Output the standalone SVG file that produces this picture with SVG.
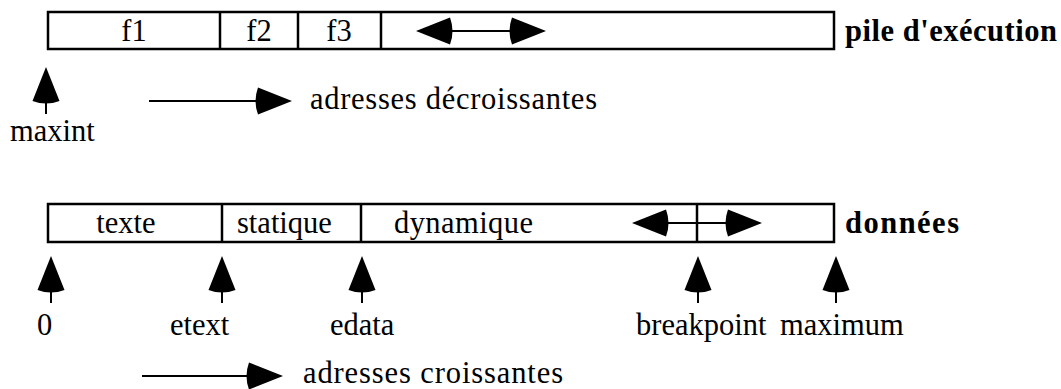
<svg xmlns="http://www.w3.org/2000/svg" width="1061" height="389" viewBox="0 0 1061 389">
<style>
.box{fill:#fff;stroke:#000;stroke-width:2.5}
.div{stroke:#000;stroke-width:2.5}
.ln{stroke:#000;stroke-width:2;fill:none}
.t{font-size:30.5px;fill:#000}
.b{font-weight:bold}
.m{text-anchor:middle}
</style>
<defs>
<marker id="ah" viewBox="-6 -15 42 30" markerWidth="42" markerHeight="30" markerUnits="userSpaceOnUse" refX="0" refY="0" orient="auto-start-reverse">
<path d="M0,-13.5 Q-5,0 0,13.5 L34,0 Z" fill="#000"/>
</marker>
</defs>
<rect width="1061" height="389" fill="#fff"/>
<g font-family="Liberation Serif, Times New Roman, serif">
<g id="pile">
<rect class="box" x="48" y="12" width="786" height="37"/>
<line class="div" x1="220" y1="12" x2="220" y2="49"/>
<line class="div" x1="298" y1="12" x2="298" y2="49"/>
<line class="div" x1="381" y1="12" x2="381" y2="49"/>
<text class="t m" x="134" y="41">f1</text>
<text class="t m" x="259" y="41">f2</text>
<text class="t m" x="339" y="41">f3</text>
<text class="t b" x="845" y="41" textLength="212">pile d'exécution</text>
</g>
<g id="donnees">
<rect class="box" x="48" y="204" width="786" height="38"/>
<line class="div" x1="222" y1="204" x2="222" y2="242"/>
<line class="div" x1="361" y1="204" x2="361" y2="242"/>
<line class="div" x1="697" y1="204" x2="697" y2="242"/>
<text class="t m" x="126" y="233">texte</text>
<text class="t" x="237" y="233">statique</text>
<text class="t" x="394" y="233" textLength="139">dynamique</text>
<text class="t b" x="845" y="233" textLength="114">données</text>
</g>
<g id="labels">
<text class="t" x="310" y="109" textLength="287">adresses décroissantes</text>
<text class="t" x="10" y="141">maxint</text>
<text class="t" x="37" y="335">0</text>
<text class="t" x="170" y="335">etext</text>
<text class="t" x="330" y="335">edata</text>
<text class="t" x="636" y="335">breakpoint</text>
<text class="t" x="780" y="335">maximum</text>
<text class="t" x="303" y="383" textLength="260">adresses croissantes</text>
</g>
</g>
<g id="connectors">
<line class="ln" x1="450" y1="31" x2="512" y2="31" marker-start="url(#ah)" marker-end="url(#ah)"/>
<line class="ln" x1="666" y1="223" x2="728" y2="223" marker-start="url(#ah)" marker-end="url(#ah)"/>
<line class="ln" x1="149" y1="101" x2="258" y2="101" marker-end="url(#ah)"/>
<line class="ln" x1="142" y1="376" x2="249" y2="376" marker-end="url(#ah)"/>
<line class="ln" x1="46" y1="114" x2="46" y2="101" marker-end="url(#ah)"/>
<line class="ln" x1="51" y1="303" x2="51" y2="290" marker-end="url(#ah)"/>
<line class="ln" x1="222" y1="303" x2="222" y2="290" marker-end="url(#ah)"/>
<line class="ln" x1="362" y1="303" x2="362" y2="290" marker-end="url(#ah)"/>
<line class="ln" x1="698" y1="303" x2="698" y2="290" marker-end="url(#ah)"/>
<line class="ln" x1="836" y1="303" x2="836" y2="290" marker-end="url(#ah)"/>
</g>
</svg>
